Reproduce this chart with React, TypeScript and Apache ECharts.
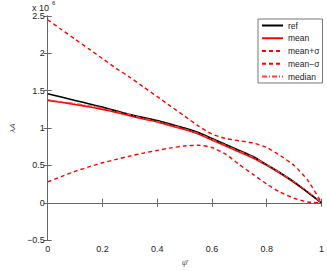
import React, { useEffect, useRef } from "react";
import * as echarts from "echarts";

const xs = [0, 0.05, 0.1, 0.15, 0.2, 0.25, 0.3, 0.35, 0.4, 0.45, 0.5, 0.55, 0.6, 0.65, 0.7, 0.75, 0.8, 0.85, 0.9, 0.95, 1];
const refVals = [1.46, 1.415, 1.37, 1.325, 1.28, 1.23, 1.18, 1.14, 1.1, 1.05, 1.0, 0.94, 0.86, 0.78, 0.7, 0.62, 0.51, 0.4, 0.28, 0.14, 0];
const meanVals = [1.37, 1.345, 1.315, 1.285, 1.25, 1.21, 1.165, 1.12, 1.08, 1.03, 0.98, 0.92, 0.84, 0.76, 0.68, 0.6, 0.5, 0.39, 0.27, 0.14, 0];
const meanPlusVals = [2.45, 2.32, 2.19, 2.06, 1.93, 1.8, 1.68, 1.55, 1.42, 1.29, 1.16, 1.03, 0.92, 0.86, 0.83, 0.8, 0.74, 0.63, 0.5, 0.3, 0];
const meanMinusVals = [0.28, 0.35, 0.42, 0.48, 0.535, 0.58, 0.625, 0.665, 0.7, 0.735, 0.76, 0.77, 0.74, 0.65, 0.51, 0.38, 0.25, 0.14, 0.06, 0.01, 0];
const medianVals = [1.38, 1.35, 1.33, 1.3, 1.27, 1.22, 1.18, 1.13, 1.09, 1.04, 0.99, 0.93, 0.85, 0.77, 0.69, 0.61, 0.51, 0.4, 0.28, 0.15, 0];
const seriesNames = ["ref", "mean", "mean+σ", "mean\u2212σ", "median"];
const yTicks = [-0.5, 0, 0.5, 1, 1.5, 2, 2.5];
const xTicks = [0, 0.2, 0.4, 0.6, 0.8, 1];

const pairs = (v: number[]) => xs.map((x, i) => [x, v[i]]);

export default function App() {
  const ref = useRef<HTMLDivElement>(null);
  useEffect(() => {
    if (!ref.current) return;
    const chart = echarts.init(ref.current, null, { renderer: "svg" });
    const font = "Liberation Sans, Arial, sans-serif";
    const axisColor = "#666";
    const fmtY = (v: number) => (v < 0 ? "\u2212" + String(-v) : String(v));
    const baseAxis = {
      axisLine: { show: true, lineStyle: { color: axisColor, width: 1 } },
      axisTick: { show: true, inside: true, length: 4, lineStyle: { color: axisColor } },
      splitLine: { show: false },
    };
    const mk = (name: string, vals: number[], color: string, type: any, width: number) => ({
      name,
      type: "line",
      data: pairs(vals),
      symbol: "none",
      smooth: 0.2,
      lineStyle: { color, type, width },
      itemStyle: { color },
      z: 3,
    });
    chart.setOption({
      animation: false,
      grid: { left: 31.5, right: 5, top: 16, bottom: 25, containLabel: false },
      xAxis: [
        {
          ...baseAxis,
          type: "value",
          min: 0,
          max: 1,
          interval: 0.2,
          name: "ψ\u0304",
          nameLocation: "middle",
          nameGap: 14,
          nameTextStyle: { fontFamily: font, fontSize: 8, color: "#555", fontStyle: "italic" },
          axisLabel: {
            fontFamily: font,
            fontSize: 9,
            color: "#222",
            margin: 4,
            formatter: (v: number) => (xTicks.includes(+v.toFixed(1)) ? String(+v.toFixed(1)) : ""),
          },
        },
        {
          ...baseAxis,
          type: "value",
          position: "top",
          min: 0,
          max: 1,
          interval: 0.2,
          axisLabel: { show: false },
        },
      ],
      yAxis: [
        {
          ...baseAxis,
          type: "value",
          min: -0.5,
          max: 2.5,
          interval: 0.5,
          name: "λA",
          nameLocation: "middle",
          nameGap: 23,
          nameRotate: 90,
          nameTextStyle: { fontFamily: font, fontSize: 8, color: "#555", fontStyle: "italic" },
          axisLabel: {
            fontFamily: font,
            fontSize: 9,
            color: "#222",
            margin: 3,
            formatter: (v: number) => (yTicks.includes(v) ? fmtY(v) : ""),
          },
        },
        {
          ...baseAxis,
          type: "value",
          position: "right",
          min: -0.5,
          max: 2.5,
          interval: 0.5,
          axisLabel: { show: false },
        },
      ],
      legend: {
        show: true,
        orient: "vertical",
        left: 258,
        top: 19,
        padding: [2, 3, 2, 3],
        itemWidth: 21,
        itemHeight: 8,
        itemGap: 3.75,
        itemTextGap: 2,
        itemStyle: { opacity: 0 },
        backgroundColor: "#fff",
        borderColor: "#777",
        borderWidth: 1,
        borderRadius: 0,
        textStyle: { fontFamily: font, fontSize: 8.5, color: "#222" },
        data: seriesNames,
      },
      graphic: [
        {
          type: "text",
          left: 32,
          top: 3,
          style: { text: "x 10", fontFamily: font, fontSize: 9, fill: "#222" },
        },
        {
          type: "text",
          left: 52,
          top: 0,
          style: { text: "6", fontFamily: font, fontSize: 6, fill: "#222" },
        },
      ],
      series: [
        mk(seriesNames[1], meanVals, "#ff0000", "solid", 1.6),
        mk(seriesNames[0], refVals, "#000000", "solid", 1.6),
        mk(seriesNames[2], meanPlusVals, "#ff0000", [4, 3], 1.4),
        mk(seriesNames[3], meanMinusVals, "#ff0000", [4, 3], 1.4),
        mk(seriesNames[4], medianVals, "#ff4040", [5, 2, 1, 2], 1.2),
      ],
    });
    return () => chart.dispose();
  }, []);
  return <div ref={ref} style={{ width: 327, height: 271, position: "absolute", left: 0, top: 0 }} />;
}
